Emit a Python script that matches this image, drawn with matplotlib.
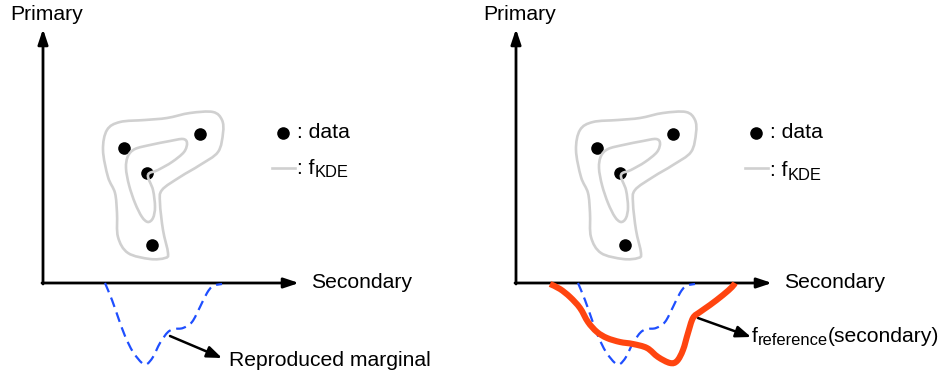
import numpy as np
import matplotlib
matplotlib.use("Agg")
import matplotlib.pyplot as plt
from matplotlib.path import Path
from matplotlib.patches import PathPatch

plt.rcParams['font.family'] = ['Liberation Sans', 'DejaVu Sans']

# panel geometry (pixel space of the left panel; right panel is shifted)
PANEL_OFFSET = 473
ORIGIN = (43, 283)
Y_TIP = 29
X_TIP = 299

# sample points
data_x = [124, 200, 147, 152]
data_y = [148, 134, 173, 245]

# KDE contours (closed)
outer_x = [103, 107, 120, 145, 167, 190, 213, 222, 223, 218, 200, 180, 162, 160, 163, 168, 165, 150, 128, 118, 117, 115, 108]
outer_y = [150, 130, 122, 120, 118, 113, 112, 120, 133, 152, 165, 177, 190, 203, 230, 253, 258, 259, 253, 237, 213, 193, 177]
inner_x = [148, 153, 155, 153, 148, 142, 135, 129, 126, 128, 135, 150, 170, 183, 187, 184, 172, 158]
inner_y = [175, 190, 207, 218, 222, 217, 203, 185, 168, 156, 149, 145, 141, 139, 143, 152, 162, 170]

# reproduced marginal (blue dashed)
marg_x = [105, 112, 118, 125, 133, 142, 147, 153, 160, 168, 175, 183, 192, 200, 207, 213, 222]
marg_y = [283, 300, 317, 336, 352, 363, 364, 357, 343, 332, 329, 328, 322, 307, 293, 286, 284]

# reference marginal (orange, right panel)
ref_x = [77, 87, 97, 107, 115, 124, 134, 147, 160, 174, 185, 197, 204, 210, 215, 220, 227, 237, 250, 259, 262]
ref_y = [284, 289, 297, 308, 322, 332, 338, 342, 344, 348, 357, 363, 361, 350, 333, 318, 312, 305, 295, 287, 283]


def smooth_path(xs, ys, closed=False):
    p = np.column_stack([xs, ys]).astype(float)
    n = len(p)
    if closed:
        get = lambda i: p[i % n]
        segs = n
    else:
        get = lambda i: p[min(max(i, 0), n - 1)]
        segs = n - 1
    verts = [p[0]]
    codes = [Path.MOVETO]
    for i in range(segs):
        p0, p1, p2, p3 = get(i - 1), get(i), get(i + 1), get(i + 2)
        verts += [p1 + (p2 - p0) / 6, p2 - (p3 - p1) / 6, p2]
        codes += [Path.CURVE4] * 3
    return Path(verts, codes)


def sub_label(ax, x, y, main, sub, tail='', fs=15.2):
    # main text, a lowered smaller subscript, then optional tail on the main baseline
    t = ax.text(x, y, main, fontsize=fs, va='center', ha='left')
    s = ax.annotate(sub, xy=(1, 0), xycoords=t, xytext=(0, -2), textcoords='offset points',
                    fontsize=fs * 0.78, va='bottom', ha='left')
    if tail:
        ax.annotate(tail, xy=(1, 0), xycoords=(s, t), fontsize=fs, va='bottom', ha='left')


fig = plt.figure(figsize=(9.43, 3.75), dpi=100)
ax = fig.add_axes([0, 0, 1, 1])
ax.set_xlim(0, 943)
ax.set_ylim(375, 0)
ax.axis('off')

arrow_kw = dict(arrowstyle='-|>,head_length=0.9,head_width=0.3', color='black',
                lw=2, shrinkA=0, shrinkB=0)
fs = 15.2
kde_grey = '#d0d0d0'

for k, off in enumerate([0, PANEL_OFFSET]):
    ox, oy = ORIGIN[0] + off, ORIGIN[1]
    # axes with arrow heads
    ax.annotate('', xy=(ox, Y_TIP), xytext=(ox, oy + 1), arrowprops=arrow_kw, zorder=5)
    ax.annotate('', xy=(X_TIP + off, oy), xytext=(ox - 1, oy), arrowprops=arrow_kw, zorder=5)
    ax.text(10 + off, 15, 'Primary', fontsize=fs, va='center', ha='left')
    ax.text(311 + off, 283, 'Secondary', fontsize=fs, va='center', ha='left')

    ax.scatter(np.array(data_x) + off, data_y, s=82, color='black', zorder=3, linewidths=0)
    for cx, cy in [(outer_x, outer_y), (inner_x, inner_y)]:
        ax.add_patch(PathPatch(smooth_path(np.array(cx) + off, cy, closed=True),
                               facecolor='none', edgecolor=kde_grey, lw=1.9, zorder=4))

    # legend
    ax.scatter([283 + off], [133], s=82, color='black', linewidths=0)
    ax.text(297 + off, 133, ': data', fontsize=fs, va='center', ha='left')
    ax.plot([272 + off, 295 + off], [168, 168], color=kde_grey, lw=1.9)
    sub_label(ax, 297 + off, 168 + 3 * k, ': f', 'KDE', fs=fs)

    ax.add_patch(PathPatch(smooth_path(np.array(marg_x) + off, marg_y),
                           facecolor='none', edgecolor='#1f4fff', lw=1.6,
                           linestyle=(0, (4.5, 2.6)), zorder=6))

ax.add_patch(PathPatch(smooth_path(np.array(ref_x) + PANEL_OFFSET, ref_y),
                       facecolor='none', edgecolor='#ff4510', lw=4.4,
                       capstyle='butt', zorder=7))

point_kw = dict(arrowstyle='-|>,head_length=0.9,head_width=0.35', color='black',
                lw=1.8, shrinkA=0, shrinkB=0)
ax.annotate('', xy=(222, 358), xytext=(170, 336), arrowprops=point_kw)
ax.text(229, 360, 'Reproduced marginal', fontsize=fs, va='center', ha='left')
ax.annotate('', xy=(751, 337), xytext=(698, 318), arrowprops=point_kw)
sub_label(ax, 752, 336, 'f', 'reference', '(secondary)', fs=fs)

fig.savefig('out.png', dpi=100)
